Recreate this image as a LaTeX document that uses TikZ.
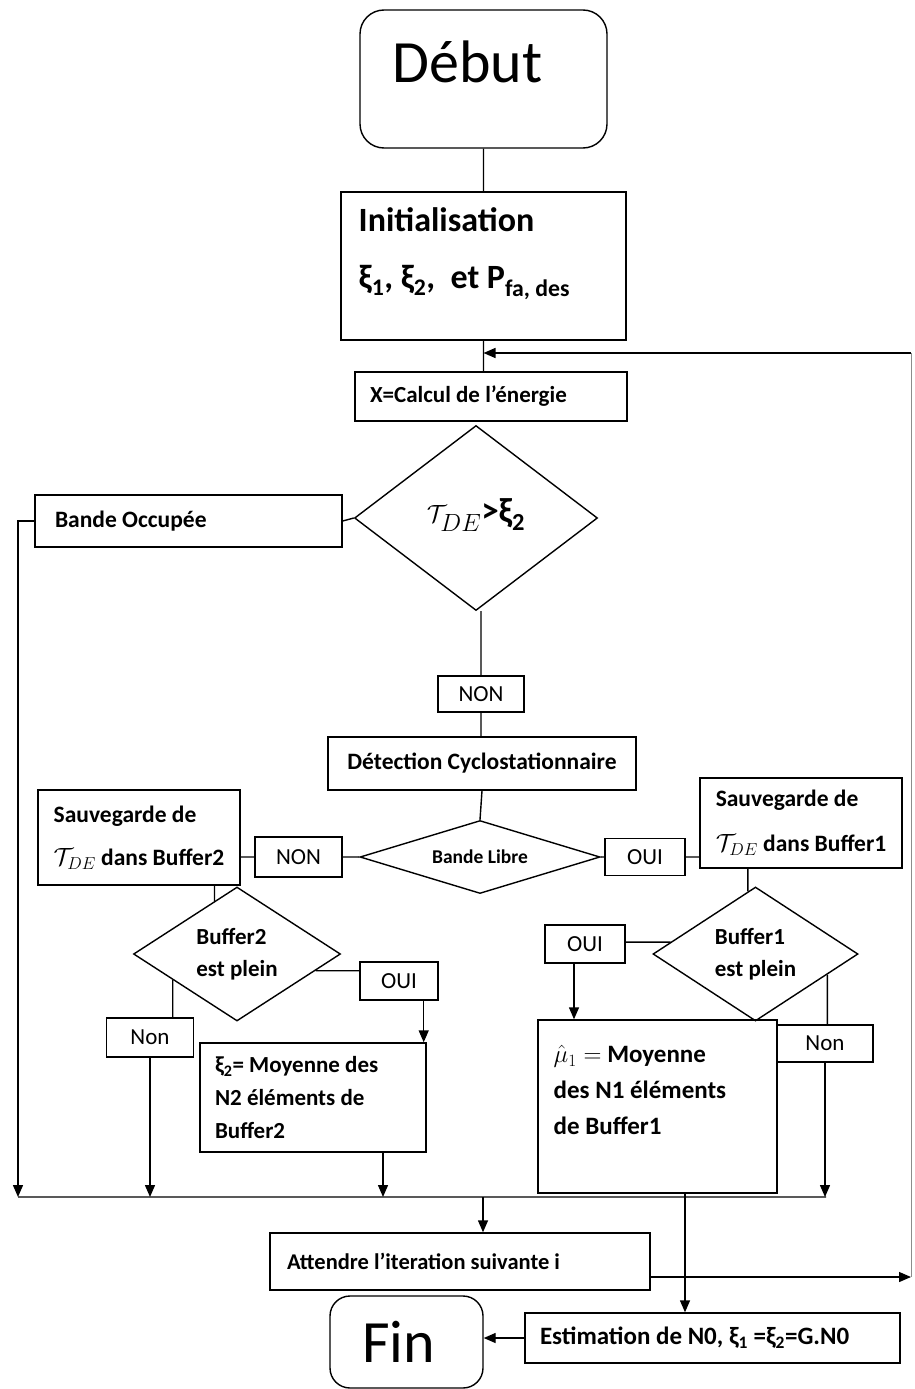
\documentclass[tikz,border=0pt]{standalone}
\usepackage{fontspec}
\setmainfont{Carlito}
\usetikzlibrary{shapes.geometric, arrows.meta}

\begin{document}
\begin{tikzpicture}[x=1pt, y=-1pt, line width=1.4pt, >={Triangle[length=12pt, width=10pt]}]
        \tikzstyle{fc_term} = [shape = rectangle, rounded corners=24pt, draw, inner sep=0pt]
        \tikzstyle{fc_box}  = [shape = rectangle, draw, inner sep=0pt, font=\fontsize{23}{33}\selectfont\bfseries]
        \tikzstyle{fc_tag}  = [shape = rectangle, draw, inner sep=0pt, font=\fontsize{23}{23}\selectfont]
        \tikzstyle{fc_test} = [shape = diamond,   draw, inner sep=0pt, align=left, font=\fontsize{23}{32}\selectfont\bfseries]

        \useasboundingbox (0, 0) rectangle (915, 1389);

        \node[fc_term, minimum width=247, minimum height=138] at (483.5, 79) (debut) {};
        \node[anchor=base west, inner sep=0pt, font=\fontsize{60}{60}\selectfont] at (392, 82) (debut_txt) {Début};

        \node[fc_box, minimum width=285, minimum height=148] at (483.5, 266) (init) {};
        \node[anchor=west, align=left, inner sep=0pt, font=\fontsize{34}{57}\selectfont\bfseries]
          at (358, 254) (init_txt) {Initialisation\\ξ\textsubscript{1}, ξ\textsubscript{2},\ \ et P\textsubscript{fa, des}};

        \node[fc_box, inner xsep=15pt, minimum height=49]
          at (491, 396.5) (calc) {\makebox[242pt][l]{X=Calcul de l’énergie}};

        \node[fc_test, shape aspect=1.3, minimum width=243, minimum height=185, font=\fontsize{35}{35}\selectfont\bfseries]
          at (476, 518) (t_occ) {$\mathcal{T}_{DE}$>ξ\textsubscript{2}\rule[-14pt]{0pt}{1pt}};

        \node[fc_box, inner xsep=20pt, minimum height=52, font=\fontsize{23.5}{23.5}\selectfont\bfseries]
          at (188.5, 521) (occ) {\makebox[267pt][l]{Bande Occupée}};

        \node[fc_tag, minimum width=86, minimum height=36] at (481, 694) (non1) {NON};
        \node[fc_box, minimum width=308, minimum height=53, font=\fontsize{23.5}{23.5}\selectfont\bfseries]
          at (482, 763.5) (detect) {Détection Cyclostationnaire};

        \node[fc_test, shape aspect=3.3, minimum width=240, minimum height=73, font=\fontsize{19.5}{19.5}\selectfont\bfseries]
          at (480, 857) (t_libre) {Bande Libre};

        \node[fc_tag, minimum width=87, minimum height=40] at (298.5, 857) (non2) {NON};
        \node[fc_tag, minimum width=80, minimum height=37] at (645, 857) (oui1) {OUI};

        \node[fc_box, align=left, minimum width=202, minimum height=95, font=\fontsize{23.5}{43}\selectfont\bfseries]
          at (139, 837.5) (sauv2) {Sauvegarde de\\{\fontsize{26}{26}\selectfont$\mathcal{T}_{DE}$} dans Buffer2};
        \node[fc_box, align=left, minimum width=202, minimum height=90, font=\fontsize{23.5}{45}\selectfont\bfseries]
          at (801, 823) (sauv1) {Sauvegarde de\\{\fontsize{26}{26}\selectfont$\mathcal{T}_{DE}$} dans Buffer1};

        \node[fc_test, shape aspect=1.55, minimum width=207, minimum height=134] at (237, 954) (t_buf2) {Buffer2\\est plein};
        \node[fc_test, shape aspect=1.55, minimum width=205, minimum height=134] at (755.5, 954) (t_buf1) {Buffer1\\est plein};

        \node[fc_tag, minimum width=78, minimum height=38] at (399, 981) (oui2) {OUI};
        \node[fc_tag, minimum width=87, minimum height=39] at (150, 1037.5) (non3) {Non};
        \node[fc_tag, minimum width=80, minimum height=38] at (585, 944) (oui3) {OUI};
        \node[fc_tag, minimum width=96, minimum height=37] at (825, 1043.5) (non4) {Non};

        \node[fc_box, inner xsep=15pt, minimum height=109]
          at (313, 1097.5) (moy2) {\parbox{196pt}{\raggedright ξ\textsubscript{2}= Moyenne des\\N2 éléments de\\Buffer2}};

        \node[fc_box, minimum width=239, minimum height=173] at (657.5, 1106.5) (moy1) {};
        \node[anchor=west, align=left, inner sep=0pt, font=\fontsize{25}{36}\selectfont\bfseries]
          at (553, 1090) (moy1_txt) {{\fontsize{27}{27}\selectfont$\hat{\mu}_1 =$} Moyenne\\des N1 éléments\\de Buffer1};

        \node[fc_box, inner xsep=17pt, minimum height=57, font=\fontsize{22.5}{22.5}\selectfont\bfseries]
          at (460, 1261.5) (attente) {\makebox[346pt][l]{Attendre l’iteration suivante i}};
        \node[fc_box, inner xsep=15pt, minimum height=50, font=\fontsize{25}{25}\selectfont\bfseries]
          at (712.5, 1338) (estim) {\makebox[345pt][l]{Estimation de N0, ξ\textsubscript{1} =ξ\textsubscript{2}=G.N0}};
        \node[fc_term, rounded corners=20pt, inner xsep=32pt, minimum height=92, font=\fontsize{60}{60}\selectfont]
          at (406.5, 1342) (fin) {\makebox[89pt][l]{Fin}};

        \coordinate (merge_l) at (18, 1197);
        \coordinate (merge_r) at (826, 1197);
        \coordinate (merge_c) at (483, 1197);
        \coordinate (rail_b)  at (911, 1277);
        \coordinate (rail_t)  at (911, 353);

        % liaisons simples
        \draw
          (debut.south) -- (debut.south |- init.north)
          (init.south) -- (init.south |- calc.north)
          (occ.east) -- (t_occ.west)
          (non1.north) -- (non1.north |- t_occ.south)
          (non1.south) -- (non1.south |- detect.north)
          (detect.south) -- (t_libre.north)
          (non2.east) -- (t_libre.west)
          (non2.west) -- (non2.west -| sauv2.east)
          (t_libre.east) -- (oui1.west)
          (oui1.east) -- (oui1.east -| sauv1.west)
          (t_buf2.113 |- sauv2.south) -- (t_buf2.113)
          (t_buf2.-12) -- (t_buf2.-12 -| oui2.west)
          (t_buf2.202) -- (t_buf2.202 |- non3.north)
          (t_buf1.97 |- sauv1.south) -- (t_buf1.97)
          (t_buf1.172) -- (t_buf1.172 -| oui3.east)
          (t_buf1.-16.5) -- (t_buf1.-16.5 |- non4.north)
          (merge_l) -- (merge_r)
        ;
        \draw[line width=0.9pt, black!45] (rail_b) -- (rail_t);

        % fleches
        \draw[->] (occ.west) -| (merge_l);
        \draw[->] (non3.south) -- (non3.south |- merge_l);
        \draw[->] ([xshift=70]moy2.south) -- ([xshift=70]moy2.south |- merge_l);
        \draw[->] (non4.south) -- (non4.south |- merge_l);
        \draw[->] (merge_c) -- (merge_c |- attente.north);
        \draw[->] ([xshift=-15]oui2.south east) -- ([xshift=-15]oui2.south east |- moy2.north);
        \draw[->] ([xshift=-11]oui3.south) -- ([xshift=-11]oui3.south |- moy1.north);
        \draw[->] ([xshift=27.5]moy1.south) -- ([xshift=27.5]moy1.south |- estim.north);
        \draw[->] (estim.west) -- (estim.west -| fin.east);
        \draw[->] ([yshift=-15.5]attente.east) -- (rail_b);
        \draw[->] (rail_t) -- (rail_t -| init.south);
      \end{tikzpicture}
\end{document}
